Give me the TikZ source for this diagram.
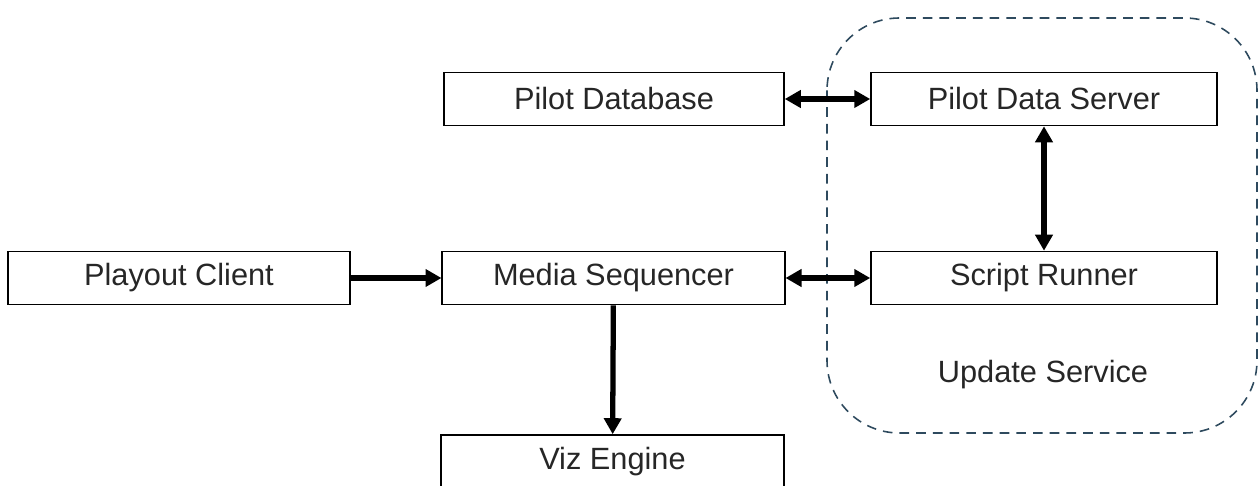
\documentclass[tikz,border=0pt]{standalone}
\usepackage{fontspec}
\setmainfont{Liberation Sans}
\usepackage{xcolor}
\usepackage{tikz}
\usetikzlibrary{positioning, arrows.meta}

\definecolor{grpline}{HTML}{2E4A5E}
\definecolor{txt}{HTML}{262626}

\begin{document}
\begin{tikzpicture}[x=0.02cm, y=-0.02cm,
    blk/.style={draw, line width=0.9pt, rectangle, minimum width=6.85cm, minimum height=1.06cm, inner sep=0pt, text=txt, font=\fontsize{17.5}{19}\selectfont},
    conn/.style={line width=3pt, {Triangle[length=0.32cm, width=0.34cm]}-{Triangle[length=0.32cm, width=0.34cm]}},
    oneway/.style={line width=3pt, -{Triangle[length=0.32cm, width=0.34cm]}}]
    \useasboundingbox (0,0) rectangle (1258,486);
    % update service group
    \draw[grpline, line width=0.9pt, dash pattern=on 5.5pt off 4pt, rounded corners=1.45cm] (827,18) rectangle (1257,433);
    \node[text=txt, font=\fontsize{17.5}{19}\selectfont] (US) at (1043,375) {Update Service};
    \node[blk, minimum width=6.8cm] (PDB) at (614,99) {Pilot Database};
    \node[blk, minimum width=6.92cm] (PDS) at (1044,99) {Pilot Data Server};
    \node[blk] (PC) at (179,278) {Playout Client};
    \node[blk] (MS) at (613.5,278) {Media Sequencer};
    \node[blk, minimum width=6.92cm] (SR) at (1044,278) {Script Runner};
    \node[blk] (VIZ) at (612.5,461.5) {Viz Engine};
    \draw[conn] (PDB) -- (PDS);
    \draw[conn] (PDS) -- (SR);
    \draw[oneway] (PC) -- (MS);
    \draw[conn] (MS) -- (SR);
    \draw[oneway] (MS) -- (VIZ);
  \end{tikzpicture}
\end{document}
